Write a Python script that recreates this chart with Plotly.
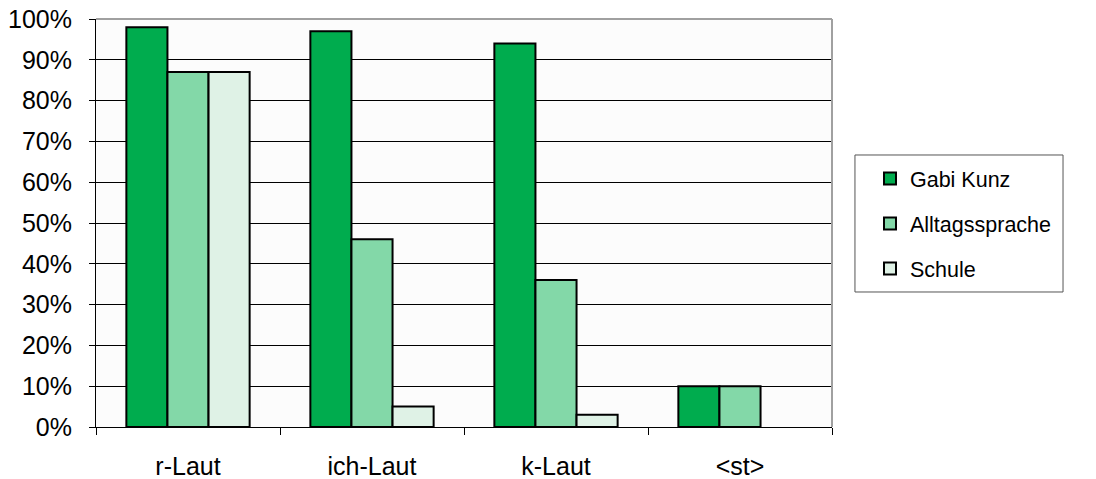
import plotly.graph_objects as go

categories = ["r-Laut", "ich-Laut", "k-Laut", "<st>"]
gabi_kunz = [0.98, 0.97, 0.94, 0.10]
alltagssprache = [0.87, 0.46, 0.36, 0.10]
schule = [0.87, 0.05, 0.03, None]
series_names = ["Gabi Kunz", "Alltagssprache", "Schule"]
colors = ["#00AC4E", "#83D8A8", "#DFF2E6"]

fig = go.Figure()
for name, vals, col in zip(series_names, [gabi_kunz, alltagssprache, schule], colors):
    fig.add_trace(go.Bar(
        x=categories, y=vals, name=name, legendgroup=name,
        marker=dict(color=col, line=dict(color="#000000", width=2)),
    ))

fig.update_layout(
    width=1096, height=479,
    margin=dict(l=96, r=264, t=19, b=52, autoexpand=False),
    barmode="group", bargap=0.33, bargroupgap=0,
    paper_bgcolor="white", plot_bgcolor="#FCFCFC",
    font=dict(family="Arial, Liberation Sans, sans-serif", color="black"),
    showlegend=True,
    legend=dict(
        x=1.0516, y=0.659, xanchor="left", yanchor="top",
        borderwidth=0,
        font=dict(size=21.5), itemsizing="constant",
        traceorder="grouped", tracegroupgap=14, itemwidth=30,
        bgcolor="rgba(0,0,0,0)",
    ),
    shapes=[
        dict(type="line", xref="paper", yref="paper", x0=0, x1=1, y0=1, y1=1,
             line=dict(color="#A0A0A0", width=2)),
        dict(type="line", xref="paper", yref="paper", x0=1, x1=1, y0=0, y1=1,
             line=dict(color="#A0A0A0", width=2)),
        dict(type="rect", xref="paper", yref="paper", x0=1.0312, x1=1.3139,
             y0=0.3309, y1=0.6667, line=dict(color="#555555", width=1),
             fillcolor="white", layer="below"),
    ],
)
fig.update_yaxes(
    range=[0, 1.0], tickvals=[i / 10 for i in range(11)], tickformat=".0%",
    showgrid=True, gridcolor="#000000", gridwidth=1,
    showline=True, linecolor="#000000", linewidth=1,
    ticks="outside", ticklen=6, tickcolor="#000000",
    tickfont=dict(size=25), zeroline=False, automargin=False,
    ticklabelstandoff=12, ticklabeloverflow="allow",
)
fig.update_xaxes(
    showline=True, linecolor="#000000", linewidth=1,
    ticks="outside", ticklen=7, tickcolor="#000000", tickson="boundaries",
    tickfont=dict(size=25), showgrid=False, automargin=False,
    ticklabelstandoff=17, ticklabeloverflow="allow",
)

fig.write_html("out.html", config={"displayModeBar": False},
               post_script="document.body.style.margin='0';")
